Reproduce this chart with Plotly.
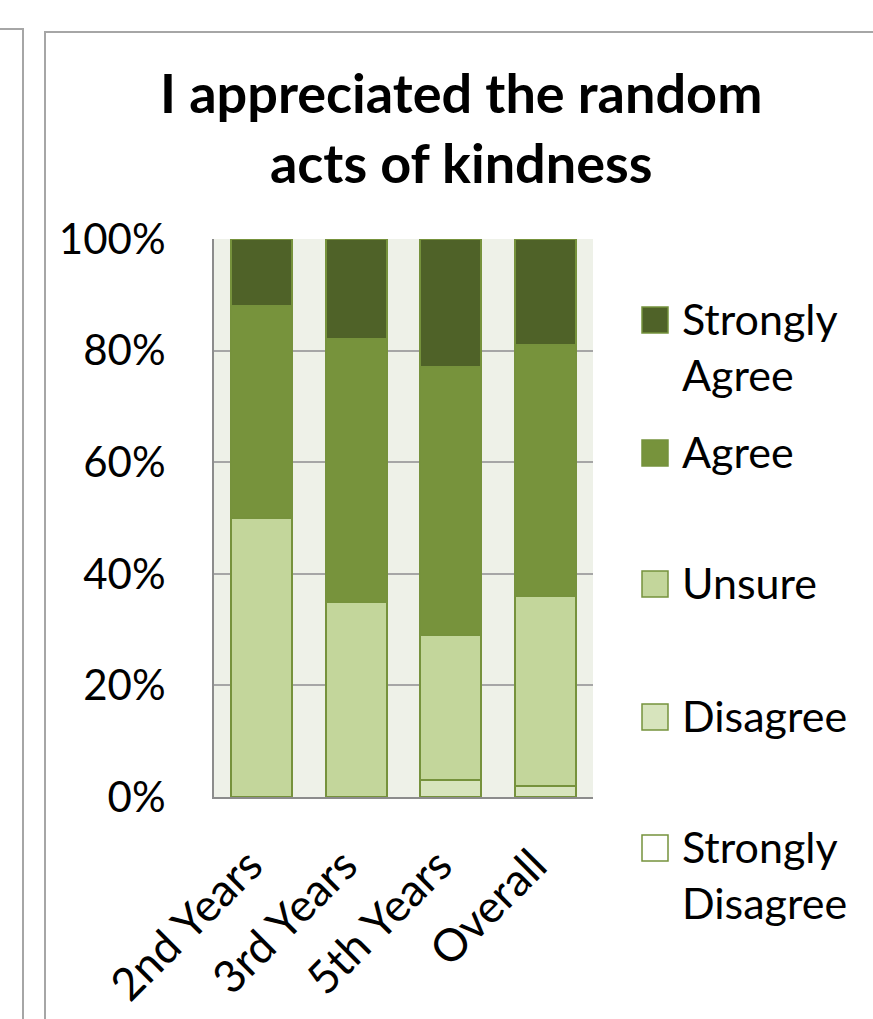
import plotly.graph_objects as go

# Survey groups and response shares (percent of respondents)
groups = ["2nd Years", "3rd Years", "5th Years", "Overall"]
strongly_disagree = [0, 0, 0, 0]
disagree = [0, 0, 3, 2]
unsure = [50, 35, 26, 34]
agree = [38, 47, 48, 45]
strongly_agree = [12, 18, 23, 19]

series_names = ["Strongly Disagree", "Disagree", "Unsure", "Agree", "Strongly Agree"]
series_values = [strongly_disagree, disagree, unsure, agree, strongly_agree]
series_colors = ["#ffffff", "#d7e4bd", "#c3d69b", "#77933c", "#4f6228"]
legend_labels = ["Strongly<br>Disagree", "Disagree", "Unsure", "Agree", "Strongly<br>Agree"]

y_ticks = [0, 20, 40, 60, 80, 100]
y_tick_text = ["0%", "20%", "40%", "60%", "80%", "100%"]

W, H = 873, 1019
L, R, T, B = 214, 593, 239, 797  # plot area edges in pixels


def px_x(x):
    return (x - L) / (R - L)


def px_y(y):
    return (B - y) / (B - T)


FONT = "Lato"
OUTLINE = "#76923c"

fig = go.Figure()
for name, vals, col in zip(series_names, series_values, series_colors):
    fig.add_trace(go.Bar(
        x=groups, y=vals, name=name, showlegend=False,
        marker=dict(color=col, line=dict(color=OUTLINE, width=2)),
    ))

shapes = []
annotations = []

# Legend: one swatch and label per series, top to bottom from Strongly Agree
legend_centers = [848, 717, 584, 453, 320]
for label, col, cy in zip(legend_labels, series_colors, legend_centers):
    shapes.append(dict(
        type="rect", xref="paper", yref="paper",
        x0=px_x(642), x1=px_x(668), y0=px_y(cy + 13), y1=px_y(cy - 13),
        fillcolor=col, line=dict(color=OUTLINE, width=1.5),
    ))
    annotations.append(dict(
        text=label, xref="paper", yref="paper",
        x=px_x(680), y=px_y(cy - 29), xanchor="left", yanchor="top",
        align="left", showarrow=False,
        font=dict(family=FONT, size=43, color="#000000"),
    ))

# Chart panel frames
frame = dict(color="#a6a6a6", width=2)
shapes.append(dict(type="path", xref="paper", yref="paper",
                   path=f"M {px_x(45)} {px_y(1030)} L {px_x(45)} {px_y(32)} L {px_x(880)} {px_y(32)}",
                   line=frame))
shapes.append(dict(type="path", xref="paper", yref="paper",
                   path=f"M {px_x(-5)} {px_y(29)} L {px_x(23)} {px_y(29)} L {px_x(23)} {px_y(1030)}",
                   line=frame))

# Title
annotations.append(dict(
    text="<b>I appreciated the random<br>acts of kindness</b>",
    xref="paper", yref="paper", x=px_x(461), y=px_y(58),
    xanchor="center", yanchor="top", showarrow=False,
    font=dict(family=FONT, size=54, color="#000000"),
))

fig.update_layout(
    width=W, height=H,
    margin=dict(l=L, r=W - R, t=T, b=H - B, pad=0, autoexpand=False),
    barmode="stack", bargap=0.356,
    plot_bgcolor="#eef1e8", paper_bgcolor="#ffffff",
    font=dict(family=FONT, color="#000000"),
    shapes=shapes, annotations=annotations,
)
fig.update_yaxes(
    range=[0, 100], tickvals=y_ticks, ticktext=y_tick_text,
    showgrid=True, gridcolor="#a6a6a6", gridwidth=1.5,
    showline=True, linecolor="#8c8c8c", linewidth=2,
    zeroline=False, ticks="", ticklabelstandoff=38, automargin=False,
    tickfont=dict(family=FONT, size=42, color="#000000"),
)
fig.update_xaxes(
    showline=True, linecolor="#8c8c8c", linewidth=2,
    ticks="", tickangle=-45, ticklabelstandoff=22, ticklabelshift=-12,
    automargin=False,
    tickfont=dict(family=FONT, size=45, color="#000000"),
)

fig.write_html("out.html")
